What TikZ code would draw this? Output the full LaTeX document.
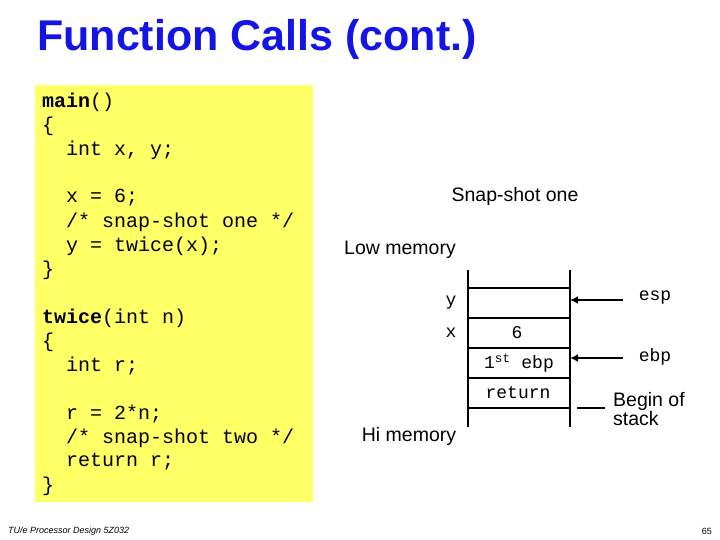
\documentclass[tikz,border=0pt]{standalone}
\usepackage{fontspec}
\setmainfont{Liberation Sans}
\setmonofont{Liberation Mono}
\usepackage{tikz}
\usetikzlibrary{arrows.meta}
\definecolor{titleblue}{RGB}{20,20,230}
\definecolor{notepad}{RGB}{255,255,102}
\tikzset{
  code/.style={anchor=west, inner sep=0pt, font=\fontsize{20}{20}\selectfont\ttfamily},
  cell/.style={inner sep=0pt, font=\fontsize{18}{18}\selectfont\ttfamily},
  plain/.style={inner sep=0pt, font=\fontsize{19.5}{19.5}\selectfont},
  wall/.style={line width=1.6pt},
  pointer/.style={line width=1.6pt, -{Latex[length=8pt,width=8pt]}}
}
\begin{document}
\begin{tikzpicture}[x=1pt, y=-1pt]
    \useasboundingbox (0,0) rectangle (720,540);
    % title and note pad
    \node[anchor=west, inner sep=0pt, text=titleblue, font=\fontsize{43}{43}\selectfont\bfseries] (title) at (37,39) {Function Calls (cont.)};
    \fill[notepad] (35,85) rectangle (313,502);
    % code lines
    \foreach \line/\txt in {102/{\textbf{main}()}, 126/\{, 150/{\ \ int x, y;},
        198/{\ \ x = 6;}, 222/{\ \ /* snap-shot one */}, 246/{\ \ y = twice(x);}, 270/\},
        318/{\textbf{twice}(int n)}, 342/\{, 366/{\ \ int r;},
        414/{\ \ r = 2*n;}, 438/{\ \ /* snap-shot two */}, 462/{\ \ return r;}, 486/\}}
      \node[code] at (42,\line) {\txt};
    % labels
    \node[plain] (snap) at (515,196) {Snap-shot one};
    \node[plain] (low) at (400,250) {Low memory};
    \node[plain] (hi) at (409,436) {Hi memory};
    % stack
    \draw[wall] (468,270) -- (468,427);
    \draw[wall] (570,270) -- (570,427);
    \foreach \y in {288,318,348,378,408}
      \draw[wall] (468,\y) -- (570,\y);
    \node[cell] (y) at (451,303) {y};
    \node[cell] (x) at (451,333) {x};
    \node[cell] (six) at (517,333) {6};
    \node[cell] (oldebp) at (519,363) {1\textsuperscript{st} ebp};
    \node[cell] (ret) at (518,393) {return};
    % pointers
    \node[cell] (esp) at (655,298) {esp};
    \node[cell] (ebp) at (655,357) {ebp};
    \coordinate (espto) at (570,300);
    \coordinate (ebpto) at (570,358);
    \draw[pointer] (623,300) -- (espto);
    \draw[pointer] (623,358) -- (ebpto);
    \draw[wall] (577,408) -- (605,408);
    \node[plain, anchor=west, align=left] (begin) at (613,409) {Begin of\\stack};
    % footer
    \node[anchor=west, inner sep=0pt, font=\fontsize{9}{9}\selectfont\itshape] (foot) at (8,531) {TU/e Processor Design 5Z032};
    \node[anchor=east, inner sep=0pt, font=\fontsize{9}{9}\selectfont] (page) at (712,531) {65};
\end{tikzpicture}
\end{document}
